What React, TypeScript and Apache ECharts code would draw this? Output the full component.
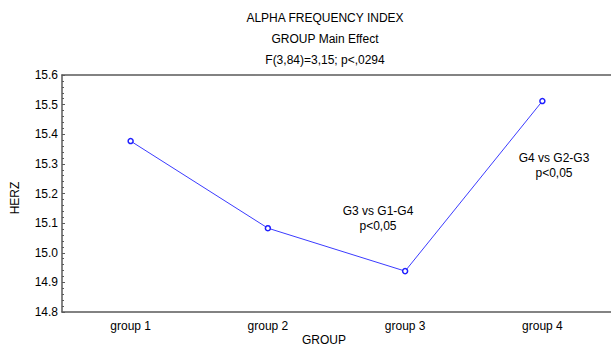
import React, { useEffect, useRef } from "react";
import * as echarts from "echarts";

const categories = ["group 1", "group 2", "group 3", "group 4"];
const herzValues = [15.377, 15.083, 14.938, 15.512];
const yTicks = { min: 14.8, max: 15.6, interval: 0.1 };
const titleLines = ["ALPHA FREQUENCY INDEX", "GROUP Main Effect", "F(3,84)=3,15; p<,0294"];
const annotations = [
  { lines: ["G3 vs G1-G4", "p<0,05"], x: 378, y: 203 },
  { lines: ["G4 vs G2-G3", "p<0,05"], x: 554, y: 150 },
];

const FONT = "Liberation Sans, Arial, sans-serif";

export default function App() {
  const ref = useRef<HTMLDivElement>(null);
  useEffect(() => {
    if (!ref.current) return;
    const chart = echarts.init(ref.current, null, { renderer: "svg" });
    const axisColor = "#5a5a5a";
    const graphics: any[] = [];
    titleLines.forEach((t, i) => {
      graphics.push({
        type: "text",
        x: 325,
        y: 12 + i * 21,
        style: { text: t, font: `12px ${FONT}`, fill: "#000", textAlign: "center" },
      });
    });
    annotations.forEach((a) => {
      graphics.push({
        type: "text",
        x: a.x,
        y: a.y,
        style: {
          text: a.lines.join("\n"),
          font: `12px ${FONT}`,
          fill: "#000",
          textAlign: "center",
          lineHeight: 15,
        },
      });
    });
    graphics.push({
      type: "text",
      x: 15,
      y: 198,
      rotation: Math.PI / 2,
      style: { text: "HERZ", font: `12px ${FONT}`, fill: "#000", textAlign: "center", textVerticalAlign: "middle" },
    });
    graphics.push({
      type: "text",
      x: 324,
      y: 334,
      style: { text: "GROUP", font: `12px ${FONT}`, fill: "#000", textAlign: "center" },
    });

    chart.setOption({
      animation: false,
      backgroundColor: "#fff",
      textStyle: { fontFamily: FONT },
      grid: { left: 62, top: 75, width: 554, height: 237, containLabel: false },
      graphic: graphics,
      xAxis: [
        {
          type: "category",
          data: categories,
          position: "bottom",
          boundaryGap: true,
          axisLine: { lineStyle: { color: axisColor, width: 1.5 } },
          axisTick: { alignWithLabel: true, inside: true, length: 3, lineStyle: { color: axisColor } },
          axisLabel: { color: "#000", fontSize: 12, margin: 8, fontFamily: FONT },
          splitLine: { show: false },
        },
        {
          type: "category",
          data: categories,
          position: "top",
          boundaryGap: true,
          axisLine: { lineStyle: { color: axisColor, width: 1.5 } },
          axisTick: { alignWithLabel: true, inside: true, length: 3, lineStyle: { color: axisColor } },
          axisLabel: { show: false },
          splitLine: { show: false },
        },
      ],
      yAxis: {
        type: "value",
        min: yTicks.min,
        max: yTicks.max,
        interval: yTicks.interval,
        axisLine: { show: true, lineStyle: { color: axisColor, width: 1.5 } },
        axisTick: { show: true, inside: true, length: 3, lineStyle: { color: axisColor } },
        minorTick: { show: true, splitNumber: 5, length: 2, lineStyle: { color: axisColor } },
        axisLabel: {
          color: "#000",
          fontSize: 12,
          margin: 4,
          fontFamily: FONT,
          formatter: (v: number) => v.toFixed(1),
        },
        splitLine: { show: false },
      },
      series: [
        {
          type: "line",
          data: herzValues,
          xAxisIndex: 0,
          symbol: "circle",
          symbolSize: 5,
          lineStyle: { color: "#3b3bff", width: 1 },
          itemStyle: { color: "#fff", borderColor: "#2020ff", borderWidth: 1.5 },
        },
      ],
    });
    return () => chart.dispose();
  }, []);
  return <div ref={ref} style={{ width: 611, height: 348, position: "absolute", left: 0, top: 0 }} />;
}
